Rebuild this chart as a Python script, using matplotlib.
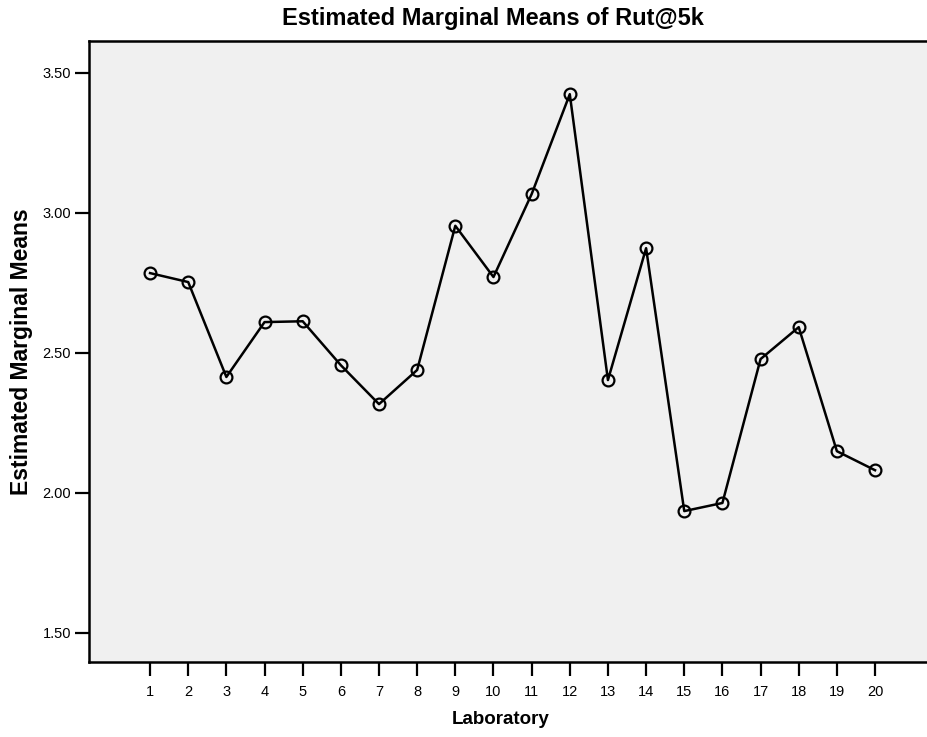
import matplotlib.pyplot as plt

labs = list(range(1, 21))
means = [2.784, 2.752, 2.413, 2.609, 2.612, 2.455, 2.316, 2.438, 2.953, 2.770,
         3.066, 3.423, 2.402, 2.873, 1.934, 1.963, 2.477, 2.591, 2.148, 2.080]
yticks = [1.50, 2.00, 2.50, 3.00, 3.50]

plt.rcParams['font.family'] = ['Liberation Sans', 'DejaVu Sans']

W, H = 928, 737
fig = plt.figure(figsize=(W / 100, H / 100), dpi=100)
# axes box in pixels: left 89, right ~935 (cut off), top 40.7, bottom 662.3
ax = fig.add_axes([89 / W, 1 - 662.3 / H, (935 - 89) / W, (662.3 - 40.7) / H])
ax.set_facecolor('#f0f0f0')

ax.plot(labs, means, color='black', lw=1.8, marker='o', ms=8.5,
        mfc='none', mec='black', mew=1.6)

ax.set_xlim(-0.6, 1 + (935 - 150) / 38.16)
ax.set_ylim(1.394, 3.614)
ax.set_xticks(labs)
ax.set_xticklabels([str(v) for v in labs], fontsize=10.5)
ax.set_yticks(yticks)
ax.set_yticklabels(['%.2f' % v for v in yticks], fontsize=10.5)
ax.tick_params(axis='both', length=10, width=1.6, color='black', pad=3)
ax.tick_params(axis='x', pad=6)

for s in ax.spines.values():
    s.set_linewidth(1.8)
    s.set_color('black')

fig.text(493 / W, 1 - 18 / H, 'Estimated Marginal Means of Rut@5k',
         ha='center', va='center', fontsize=17, fontweight='bold')
fig.text(501 / W, 1 - 720 / H, 'Laboratory',
         ha='center', va='center', fontsize=13.5, fontweight='bold')
fig.text(22 / W, 1 - 352 / H, 'Estimated Marginal Means', rotation=90,
         ha='center', va='center', fontsize=16.5, fontweight='bold')

fig.savefig('out.png', dpi=100, facecolor='white')
